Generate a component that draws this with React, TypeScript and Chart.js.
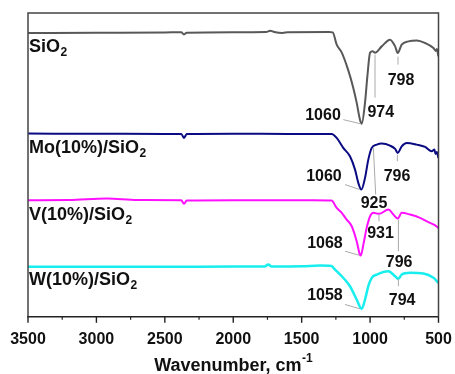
import React, { useEffect, useRef } from "react";
import { Chart, registerables } from "chart.js";

Chart.register(...registerables);

// ---- Data (wavenumber in cm-1, transmittance in arbitrary offset units) ----
const sio2Wn = [3500, 3000, 2500, 2380, 2360, 2340, 2000, 1760, 1730, 1700, 1640, 1600, 1300, 1273, 1244, 1207, 1161, 1125, 1098, 1074, 1061, 1037, 1020, 1000, 981, 964, 915, 854, 817, 798, 769, 720, 659, 598, 537, 520, 512, 501];
const sio2T = [284, 284.3, 284.5, 284.8, 282.6, 284.3, 284.8, 285, 286.3, 285, 284, 284.8, 285, 284.6, 272.3, 264.3, 247.3, 230.3, 214.3, 197.3, 193.3, 214.3, 240.3, 264.3, 265.6, 264.3, 270.6, 277.3, 270.6, 264, 272.3, 275.6, 276.6, 274, 269, 266, 268, 260.6];

const moWn = [3500, 3000, 2500, 2380, 2360, 2340, 2000, 1600, 1300, 1281, 1244, 1196, 1147, 1110, 1086, 1064, 1037, 1013, 988, 951, 915, 854, 817, 798, 769, 732, 659, 598, 549, 530, 522, 512, 501];
const moT = [183.3, 183.2, 183, 183, 179, 182.8, 183.2, 183, 183, 183, 179, 169, 160.6, 147.3, 134, 127.3, 139, 157.3, 169, 172.3, 173.3, 171.3, 168, 164, 170.6, 174, 172.3, 170, 165.6, 167.5, 163, 165, 159];

const vWn = [3500, 3200, 2924, 2700, 2380, 2360, 2340, 2000, 1600, 1300, 1281, 1244, 1207, 1171, 1134, 1098, 1074, 1068, 1049, 1025, 1000, 976, 935, 866, 830, 798, 769, 708, 635, 562, 530, 501];
const vT = [116.6, 116.8, 118.3, 116.8, 116.6, 113, 116.3, 116.6, 116.6, 116.5, 116.3, 109, 104, 97.3, 90.6, 75.6, 62, 61.3, 72.3, 89, 100.6, 104, 103, 107.3, 102.3, 98.3, 104, 102.3, 99, 94, 92, 89];

const wWn = [3500, 3000, 2500, 2000, 1770, 1744, 1720, 1500, 1366, 1300, 1281, 1256, 1207, 1147, 1098, 1061, 1037, 1013, 988, 951, 866, 817, 793, 769, 708, 610, 537, 501];
const wT = [50, 50.2, 50.1, 50.3, 50.3, 52.3, 50.3, 50.5, 51.3, 51, 50.6, 47.3, 40.6, 30.6, 17.3, 8, 17.3, 30.6, 39, 42.3, 45.6, 40.6, 38, 42.3, 44, 43.3, 39, 34];

const seriesNames = ["SiO", "Mo(10%)/SiO", "V(10%)/SiO", "W(10%)/SiO"];
const seriesLabelT = [264.6, 163.8, 97.3, 32.3];
const seriesLabelWn = [3493, 3493, 3493, 3493];

const peakLabels = ["1060", "974", "798", "1060", "796", "925", "931", "1068", "796", "1058", "794"];
const peakLabelWn = [1344, 922, 774, 1337, 803, 971, 924, 1330, 788, 1330, 766];
const peakLabelT = [197.3, 200.3, 232.3, 135.6, 135.6, 109.3, 79.3, 69.3, 50.3, 17.3, 12.3];

const leaderFromWn = [1196, 964, 796, 1183, 801, 976, 935, 1183, 793, 1183, 793];
const leaderFromT = [197.3, 262.3, 260.3, 132.3, 162.3, 169, 102.3, 65.6, 97.3, 12.3, 38];
const leaderToWn = [1074, 964, 796, 1075, 801, 959, 935, 1079, 793, 1074, 793];
const leaderToT = [193.3, 219.3, 252.3, 127.3, 155.6, 122.3, 95.6, 61.6, 65.6, 8, 30.6];

const xTicksMajor = [3500, 3000, 2500, 2000, 1500, 1000, 500];
const xTicksMinor = [3250, 2750, 2250, 1750, 1250, 750];

const FONT = "'Liberation Sans', Arial, sans-serif";

const toPoints = (xs: number[], ys: number[]) => xs.map((x, i) => ({ x, y: ys[i] }));

const decorPlugin = {
  id: "decor",
  afterDraw(chart: any) {
    const ctx = chart.ctx;
    const xs = chart.scales.x;
    const ys = chart.scales.y;
    const a = chart.chartArea;
    ctx.save();
    // frame (top, left, right)
    ctx.strokeStyle = "#444";
    ctx.lineWidth = 1.5;
    ctx.beginPath();
    ctx.moveTo(a.left, a.bottom);
    ctx.lineTo(a.left, a.top);
    ctx.lineTo(a.right, a.top);
    ctx.lineTo(a.right, a.bottom);
    ctx.stroke();
    // major and minor tick marks
    ctx.strokeStyle = "#222";
    ctx.lineWidth = 1.4;
    xTicksMajor.forEach((v) => {
      const px = xs.getPixelForValue(v);
      ctx.beginPath();
      ctx.moveTo(px, a.bottom);
      ctx.lineTo(px, a.bottom + 6);
      ctx.stroke();
    });
    ctx.lineWidth = 1.2;
    xTicksMinor.forEach((v) => {
      const px = xs.getPixelForValue(v);
      ctx.beginPath();
      ctx.moveTo(px, a.bottom);
      ctx.lineTo(px, a.bottom + 3);
      ctx.stroke();
    });
    // leader lines
    ctx.strokeStyle = "#aaaaaa";
    ctx.lineWidth = 1;
    for (let i = 0; i < leaderFromWn.length; i++) {
      ctx.beginPath();
      ctx.moveTo(xs.getPixelForValue(leaderFromWn[i]), ys.getPixelForValue(leaderFromT[i]));
      ctx.lineTo(xs.getPixelForValue(leaderToWn[i]), ys.getPixelForValue(leaderToT[i]));
      ctx.stroke();
    }
    // peak labels
    ctx.fillStyle = "#111";
    ctx.font = `bold 16px ${FONT}`;
    ctx.textAlign = "center";
    ctx.textBaseline = "alphabetic";
    for (let i = 0; i < peakLabels.length; i++) {
      ctx.fillText(peakLabels[i], xs.getPixelForValue(peakLabelWn[i]), ys.getPixelForValue(peakLabelT[i]));
    }
    // series labels with subscript 2
    ctx.textAlign = "left";
    for (let i = 0; i < seriesNames.length; i++) {
      const px = xs.getPixelForValue(seriesLabelWn[i]);
      const py = ys.getPixelForValue(seriesLabelT[i]);
      ctx.font = `bold 18px ${FONT}`;
      ctx.fillText(seriesNames[i], px, py);
      const w = ctx.measureText(seriesNames[i]).width;
      ctx.font = `bold 12px ${FONT}`;
      ctx.fillText("2", px + w + 0.5, py + 4);
    }
    // axis title with superscript
    const mainT = "Wavenumber, cm";
    const supT = "-1";
    ctx.font = `bold 18px ${FONT}`;
    const w1 = ctx.measureText(mainT).width;
    ctx.font = `bold 12px ${FONT}`;
    const w2 = ctx.measureText(supT).width;
    const cx = (a.left + a.right) / 2;
    const start = cx - (w1 + w2) / 2;
    ctx.fillStyle = "#111";
    ctx.font = `bold 18px ${FONT}`;
    ctx.fillText(mainT, start, 371);
    ctx.font = `bold 12px ${FONT}`;
    ctx.fillText(supT, start + w1 + 0.5, 362);
    ctx.restore();
  },
};

export default function App() {
  const ref = useRef<HTMLCanvasElement | null>(null);
  useEffect(() => {
    document.body.style.margin = "0";
    const canvas = ref.current;
    if (!canvas) return;
    const mk = (label: string, xs: number[], ys: number[], color: string, width: number) => ({
      label,
      data: toPoints(xs, ys),
      borderColor: color,
      backgroundColor: color,
      borderWidth: width,
      pointRadius: 0,
      cubicInterpolationMode: "monotone" as const,
      fill: false,
    });
    const chart = new Chart(canvas, {
      type: "line",
      data: {
        datasets: [
          mk("SiO2", sio2Wn, sio2T, "#585858", 2),
          mk("Mo(10%)/SiO2", moWn, moT, "#0a0a82", 2),
          mk("V(10%)/SiO2", vWn, vT, "#ff10ff", 2),
          mk("W(10%)/SiO2", wWn, wT, "#18eeee", 2.5),
        ],
      },
      options: {
        animation: false,
        responsive: false,
        layout: { padding: { left: 28, right: 16.5, top: 13, bottom: 25 } },
        plugins: { legend: { display: false }, tooltip: { enabled: false } },
        scales: {
          x: {
            type: "linear",
            reverse: true,
            min: 500,
            max: 3500,
            afterBuildTicks: (scale: any) => {
              scale.ticks = xTicksMajor.map((v) => ({ value: v }));
            },
            ticks: {
              autoSkip: false,
              maxRotation: 0,
              padding: 0,
              color: "#111",
              font: { family: FONT, size: 16, weight: "bold" },
              callback: (v: any) => String(v),
            },
            grid: { drawOnChartArea: false, drawTicks: true, tickLength: 13, tickColor: "rgba(0,0,0,0)", tickWidth: 1 },
            border: { display: true, color: "#222", width: 1.5 },
          },
          y: { display: false, min: 0, max: 304 },
        },
      },
      plugins: [decorPlugin],
    });
    return () => chart.destroy();
  }, []);
  return <canvas ref={ref} width={455} height={374} style={{ display: "block" }} />;
}
